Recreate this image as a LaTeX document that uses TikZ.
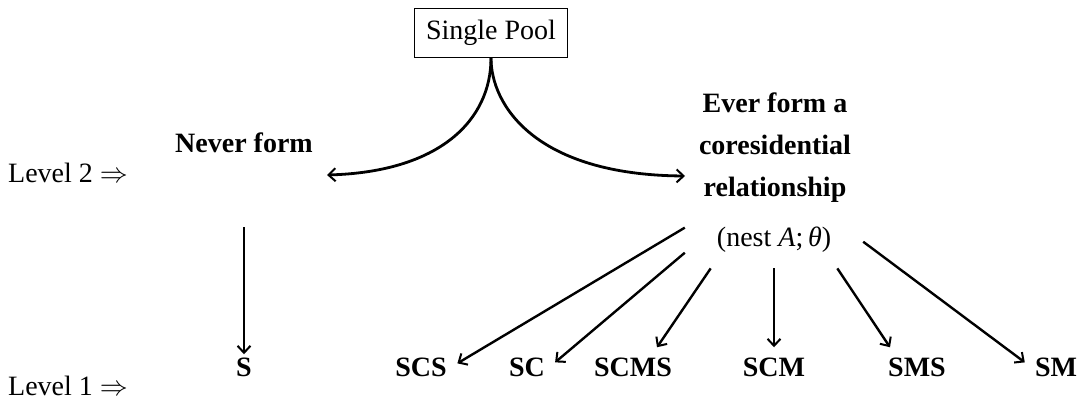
\RequirePackage{fix-cm}
\documentclass[tikz,border=0pt]{standalone}
\usepackage{fontspec}
\setmainfont{Liberation Serif}
\usetikzlibrary{arrows.meta}
\begin{document}
\begin{tikzpicture}[x=1pt,y=1pt,
  every node/.style={inner sep=0pt, font=\fontsize{28}{42}\selectfont},
  lab/.style={font=\fontsize{28}{42}\selectfont\bfseries},
  tip/.tip={Straight Barb[length=7pt,width=13pt,line width=2pt]},
  arr/.style={line width=2.4pt, -tip},
  curvearr/.style={line width=2.8pt, -tip},
  ]
\useasboundingbox (0,0) rectangle (1086,403);
% nodes
\node[draw, line width=1pt, minimum width=153pt, minimum height=49pt] (pool) at (491,370) {Single Pool};
\node[lab, anchor=base] (never) at (244,250) {Never form};
\node[lab, anchor=base, align=center] (ever) at (775,206) {Ever form a\\coresidential\\relationship};
\node[anchor=base, minimum width=178pt, minimum height=56pt] (nest) at (774,156) {(nest \textit{A};\,\textit{θ})};
\node[anchor=base west] (lev2) at (8,220) {Level 2 $\Rightarrow$};
\node[anchor=base west] (lev1) at (8,7) {Level 1 $\Rightarrow$};
\node[lab, anchor=base] (s) at (244,26) {S};
\node[lab, anchor=base] (scs) at (421,26) {SCS};
\node[lab, anchor=base] (sc) at (527,26) {SC};
\node[lab, anchor=base] (scms) at (633,26) {SCMS};
\node[lab, anchor=base] (scm) at (774,26) {SCM};
\node[lab, anchor=base] (sms) at (917,26) {SMS};
\node[lab, anchor=base] (sm) at (1056,26) {SM};
\coordinate (ltip) at (327,228);
\coordinate (rtip) at (685,227);
% connectors
\draw[curvearr] (pool.south) .. controls (491,283) and (440,231) .. (ltip);
\draw[curvearr] (pool.south) .. controls (491,298) and (535,228) .. (rtip);
\draw[arr] ([yshift=-74pt]never.south) -- ([yshift=4pt]s.north);
\draw[arr] (nest.172) -- ([shift={(10.5,4.5)}]scs.east);
\draw[arr] (nest.188) -- ([shift={(10,5.5)}]sc.east);
\draw[arr] (nest.204) -- ([shift={(24,11)}]scms.north);
\draw[arr] (nest.south) -- ([shift={(0,11)}]scm.north);
\draw[arr] (nest.336) -- ([shift={(-27,11)}]sms.north);
\draw[arr] (nest.359) -- ([shift={(-10,5.5)}]sm.west);
\end{tikzpicture}
\end{document}
